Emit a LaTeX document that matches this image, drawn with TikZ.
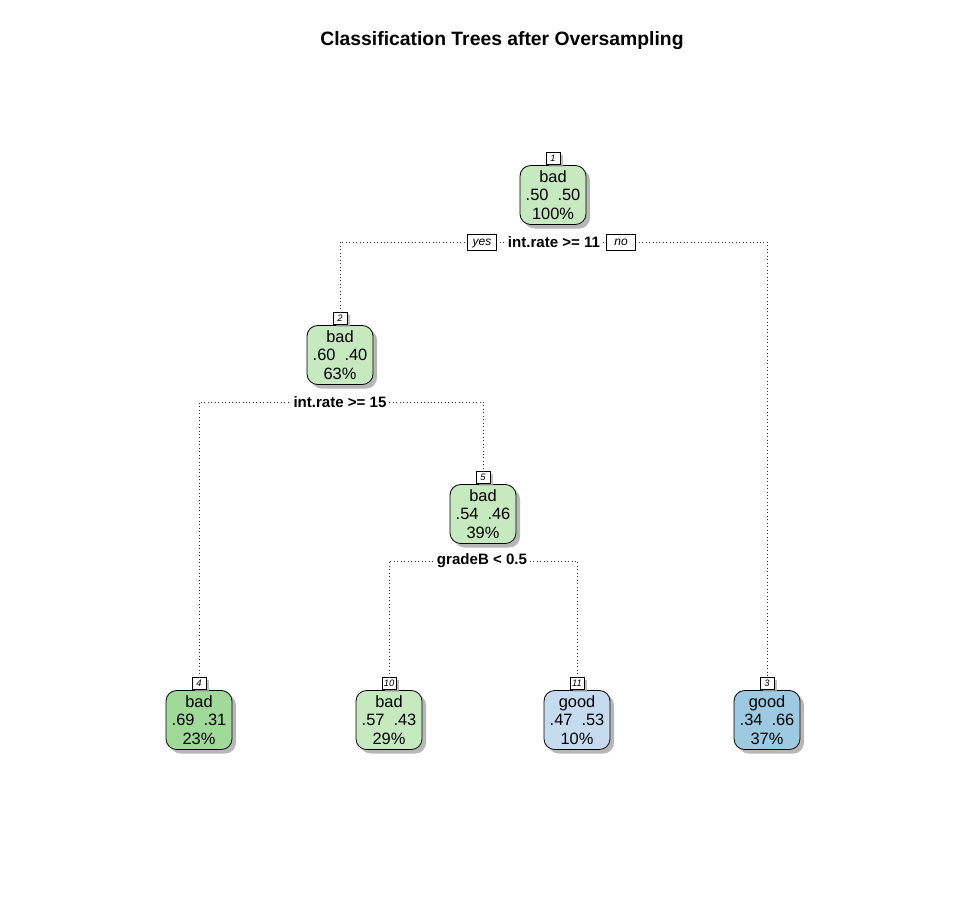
\documentclass[tikz,border=0pt]{standalone}
\usepackage{fontspec}
\setmainfont{Liberation Sans}
\usetikzlibrary{shadows}
\definecolor{gA}{HTML}{C7E9C0}
\definecolor{gB}{HTML}{A1D99B}
\definecolor{bA}{HTML}{C6DBEF}
\definecolor{bB}{HTML}{9ECAE1}
\tikzset{
  tnode/.style={draw=black, line width=0.6pt, rounded corners=8pt, minimum width=49.5pt, minimum height=44.25pt,
    inner sep=0pt, align=center, font=\fontsize{12.3}{13.9}\selectfont,
    drop shadow={shadow xshift=3pt, shadow yshift=-3pt, fill=black!35, opacity=0.8}},
  numlab/.style={draw=black, fill=white, line width=0.5pt, minimum width=10.5pt, minimum height=9pt, inner sep=0pt,
    text height=5pt, text depth=0.5pt,
    font=\fontsize{7}{8}\itshape\selectfont, anchor=south,
    drop shadow={shadow xshift=2pt, shadow yshift=-2pt, fill=black!30, opacity=0.8}},
  yn/.style={draw=black, fill=white, line width=0.5pt, minimum width=22pt, minimum height=12pt, inner sep=1pt,
    text height=6.5pt, text depth=2pt,
    font=\fontsize{9}{10}\itshape\selectfont},
  splitlab/.style={fill=white, inner sep=2pt, font=\fontsize{11.3}{12}\bfseries\selectfont},
  edge/.style={dotted, line width=0.6pt, black!80}
}
\begin{document}
\begin{tikzpicture}[x=0.75pt,y=-0.75pt]
\useasboundingbox[fill=white] (0,0) rectangle (966,908);
\node[font=\fontsize{14.5}{16}\bfseries\selectfont] (title) at (502,41) {Classification Trees after Oversampling};

% nodes
\node[tnode, fill=gA] (n1) at (553,195) {bad\\.50\hspace{0.55em}.50\\100\%};
\node[tnode, fill=gA] (n2) at (340,355) {bad\\.60\hspace{0.55em}.40\\63\%};
\node[tnode, fill=gA] (n5) at (483,514) {bad\\.54\hspace{0.55em}.46\\39\%};
\node[tnode, fill=gB] (n4) at (199,720) {bad\\.69\hspace{0.55em}.31\\23\%};
\node[tnode, fill=gA] (n10) at (389,720) {bad\\.57\hspace{0.55em}.43\\29\%};
\node[tnode, fill=bA] (n11) at (577,720) {good\\.47\hspace{0.55em}.53\\10\%};
\node[tnode, fill=bB] (n3) at (767,720) {good\\.34\hspace{0.55em}.66\\37\%};

% number labels
\node[numlab] (l1) at (n1.north) {1};
\node[numlab] (l2) at (n2.north) {2};
\node[numlab] (l5) at (n5.north) {5};
\node[numlab] (l4) at (n4.north) {4};
\node[numlab] (l10) at (n10.north) {10};
\node[numlab] (l11) at (n11.north) {11};
\node[numlab] (l3) at (n3.north) {3};

% split labels
\node[splitlab] (s1) at (554,242) {int.rate >= 11};
\node[yn] (yes) at (482,242) {yes};
\node[yn] (no) at (621,242) {no};
\node[splitlab] (s2) at (340,402) {int.rate >= 15};
\node[splitlab] (s5) at (482,561) {gradeB < 0.5};

% connectors
\draw[edge] (l2.north) |- ([xshift=-2pt]yes.west);
\draw[edge] ([xshift=2pt]yes.east) -- (s1.west);
\draw[edge] (s1.east) -- ([xshift=-2pt]no.west);
\draw[edge] ([xshift=2pt]no.east) -| (l3.north);
\draw[edge] (l4.north) |- (s2.west);
\draw[edge] (s2.east) -| (l5.north);
\draw[edge] (l10.north) |- (s5.west);
\draw[edge] (s5.east) -| (l11.north);
\end{tikzpicture}
\end{document}
